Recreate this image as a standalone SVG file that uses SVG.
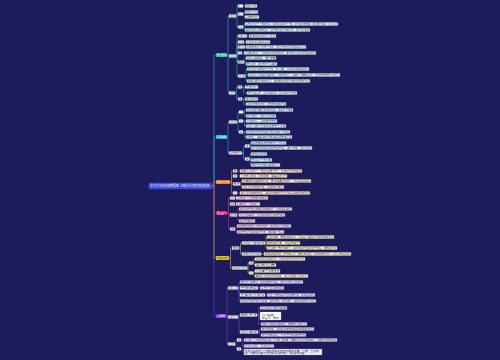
<svg xmlns="http://www.w3.org/2000/svg" width="500" height="360" viewBox="0 0 500 360">
<style>
text{font-family:"Noto Sans CJK SC","Noto Sans",sans-serif;font-size:2.2px;fill:#333;}
.root text{fill:#fff;font-size:3px;}
.l1 text{fill:#fff;font-size:2.4px;}
rect{stroke-width:0.3;}
.lt{fill:#eefaf8;stroke:#8fd8cc;}
.lc{fill:#eaf6fc;stroke:#8cc9e6;}
.lo{fill:#fdf0e2;stroke:#f0b27a;}
.lp{fill:#f8e6f2;stroke:#e39ac4;}
.ly{fill:#fcf8dc;stroke:#e5da7a;}
.lu{fill:#efe7fb;stroke:#b89ae8;}
.sb{fill:#ffffff;stroke:#b8c4e0;}
#connectors path{fill:none;stroke-width:0.6;stroke-linejoin:round;}
.ct{stroke:#33b3a0;}.cc{stroke:#26aad4;}.co{stroke:#e07b27;}.cp{stroke:#d02c7e;}.cy{stroke:#c8b82a;}.cu{stroke:#7a48d0;}
</style>
<rect x="0" y="0" width="500" height="360" fill="#1d1b5c"/>
<g id="connectors">
<path class="ct" d="M212 186H214V55H216"/>
<path class="cc" d="M212 186H214V137H216"/>
<path class="co" d="M212 186H214V182H216"/>
<path class="cu" d="M212 186H214V316H216"/>
<path class="cy" d="M212 186H214V258H216"/>
<path class="cp" d="M212 186H214V213H216"/>
<path class="ct" d="M227 55H228V16H229M227 55H228V56H229M227 55H228V93H229"/>
<path class="ct" d="M236 16H237V6H238M236 16H237V14H238M236 16H237V27H238"/>
<path class="ct" d="M243 6H245M243 14H244V12H245M243 14H244V17H245M243 27H244V24H245M243 27H244V30H245"/>
<path class="ct" d="M236 56H237V36H238M236 56H237V42H238M236 56H237V47H238M236 56H237V53H238M236 56H237V62H238M236 56H237V76H238"/>
<path class="ct" d="M247 36H249M244 42H246M245 47H246M242 53H244M244 62H245V58H246M244 62H245V64H246M245 76H246V69H247M245 76H246V75H248M245 76H246V81H247"/>
<path class="ct" d="M235 93H236.5V87H238M235 93H236.5V99H238"/>
<path class="ct" d="M242 87H243.5V87H245M242 87H243.5V93H247M242 99H243.5V99H245M242 99H243.5V104H246"/>
<path class="cc" d="M227 137H228V122H229M227 137H228V153H229"/>
<path class="cc" d="M237 122H238V112H239M237 122H238V121H239M237 122H238V132H239"/>
<path class="cc" d="M243 112H244.5V110H246M243 112H244.5V116H246M243 121H244.5V121H246M243 121H244.5V126H246M243 132H244.5V132H246M243 132H244.5V137H246"/>
<path class="cc" d="M242 153H243.5V146H245M242 153H243.5V159H245"/>
<path class="cc" d="M249.5 146H250.2V143H251M249.5 146H250.2V148H251M249.5 159H250.2V154H251M249.5 159H250.2V160H251M249.5 159H250.2V165H251"/>
<path class="co" d="M230 182H231.5V171H233M230 182H231.5V176H233M230 182H231.5V184H233M230 182H231.5V193H233"/>
<path class="co" d="M237 171H240M237 176H240M240 184H241V181H242M240 184H241V187H242M237 193H240"/>
<path class="cp" d="M227 213H228.5V198H230M227 213H228.5V204H230M227 213H228.5V215H230M227 213H228.5V229H230"/>
<path class="cp" d="M235 198H236M235 204H236M237 215H238V209H239M237 215H238V215H239M237 215H238V221H239M235 229H236V226H237M235 229H236V232H237"/>
<path class="cy" d="M229 258H230.5V248H232M229 258H230.5V268H232"/>
<path class="cy" d="M239 248H240.5V243H242M239 248H240.5V254H242"/>
<path class="cy" d="M265 243H266V237H267M265 243H266V243H267M265 243H266V248H267M261 254H264"/>
<path class="cy" d="M247 268H248V263H249M247 268H248V273H249"/>
<path class="cy" d="M253 263H254V259H255M253 263H254V265H255M253 273H254V271H255M253 273H254V276H255"/>
<path class="cu" d="M226 316H227V288H228M226 316H227V317H228M226 316H227V344H228"/>
<path class="cu" d="M238 288H239V282H240M238 288H239V288H240M238 288H239V295H240M238 288H239V301H240M258 288H260M265 295H267"/>
<path class="cu" d="M238 317H239V315H240M238 317H239V332H240"/>
<path class="cu" d="M257 315H258.5V308H260M257 315H258.5V316H260M257 315H258.5V324H261M258 332H259.5V329H261M258 332H259.5V335H261"/>
<path class="cu" d="M235 344H236V340H237M235 344H236V349H237"/>
<path class="cu" d="M241 340H242.5V340H244M241 340H242.5V346H244M241 349H242.5V352H244"/>
</g>
<g id="root" class="root"><rect x="149" y="183" width="63" height="6" rx="0.8" fill="#3946dc" stroke="#5a66ee"/><text x="150" y="187" textLength="61" lengthAdjust="spacingAndGlyphs">学习方法与技巧总结思维导图（全面提升学习效率的实用指南）</text></g>
<g id="b1" class="l1"><rect x="216" y="53" width="11" height="4" rx="0.6" fill="#22c3a6"/><text x="216.8" y="55.9" textLength="9.4" lengthAdjust="spacingAndGlyphs">学习目标</text></g>
<g id="b2" class="l1"><rect x="216" y="135" width="11" height="4" rx="0.6" fill="#1ab3dc"/><text x="216.8" y="137.9" textLength="9.4" lengthAdjust="spacingAndGlyphs">时间管理</text></g>
<g id="b3" class="l1"><rect x="216" y="180" width="14" height="4" rx="0.6" fill="#e8791e"/><text x="216.8" y="182.9" textLength="12.4" lengthAdjust="spacingAndGlyphs">课堂学习方法</text></g>
<g id="b4" class="l1"><rect x="216" y="211" width="11" height="4" rx="0.6" fill="#d9227a"/><text x="216.8" y="213.9" textLength="9.4" lengthAdjust="spacingAndGlyphs">课后复习</text></g>
<g id="b5" class="l1"><rect x="216" y="256" width="13" height="4" rx="0.6" fill="#e3d21c"/><text x="216.8" y="258.9" textLength="11.4" lengthAdjust="spacingAndGlyphs" style="fill:#333">考试应对技巧</text></g>
<g id="b6" class="l1"><rect x="216" y="314" width="10" height="4" rx="0.6" fill="#7d42d9"/><text x="216.8" y="316.9" textLength="8.4" lengthAdjust="spacingAndGlyphs">心态调整</text></g>
<g id="tA"><rect class="sb" x="229" y="14.5" width="7" height="3" rx="0.4"/><text x="229.5" y="16.8" textLength="6" lengthAdjust="spacingAndGlyphs">长期目标</text></g>
<g id="tB"><rect class="sb" x="229" y="54.5" width="7" height="3" rx="0.4"/><text x="229.5" y="56.8" textLength="6" lengthAdjust="spacingAndGlyphs">阶段目标</text></g>
<g id="tC"><rect class="sb" x="229" y="91.5" width="6" height="3" rx="0.4"/><text x="229.5" y="93.8" textLength="5" lengthAdjust="spacingAndGlyphs">每日目标</text></g>
<g id="ta1"><rect class="sb" x="238" y="4.5" width="5" height="3" rx="0.4"/><text x="238.6" y="6.8" textLength="3.8" lengthAdjust="spacingAndGlyphs">第一</text></g>
<g id="ta1l"><rect class="lt" x="245" y="4.5" width="12" height="3" rx="0.4"/><text x="245.6" y="6.8" textLength="10.8" lengthAdjust="spacingAndGlyphs">明确学习方向</text></g>
<g id="ta2"><rect class="sb" x="238" y="12.5" width="5" height="3" rx="0.4"/><text x="238.6" y="14.8" textLength="3.8" lengthAdjust="spacingAndGlyphs">第二</text></g>
<g id="ta2a"><rect class="lt" x="245" y="10.5" width="13" height="3" rx="0.4"/><text x="245.6" y="12.8" textLength="11.8" lengthAdjust="spacingAndGlyphs">制定学习计划</text></g>
<g id="ta2b"><rect class="lt" x="245" y="15.5" width="14" height="3" rx="0.4"/><text x="245.6" y="17.8" textLength="12.8" lengthAdjust="spacingAndGlyphs">合理安排进度</text></g>
<g id="ta3"><rect class="sb" x="238" y="25.5" width="5" height="3" rx="0.4"/><text x="238.6" y="27.8" textLength="3.8" lengthAdjust="spacingAndGlyphs">第三</text></g>
<g id="ta3a"><rect class="lt" x="245" y="22.5" width="93" height="3" rx="0.4"/><text x="245.6" y="24.8" textLength="91.8" lengthAdjust="spacingAndGlyphs">每天坚持学习一定的时间，养成良好的学习习惯，避免临时抱佛脚，做到循序渐进、持之以恒</text></g>
<g id="ta3b"><rect class="lt" x="245" y="28.5" width="65" height="3" rx="0.4"/><text x="245.6" y="30.8" textLength="63.8" lengthAdjust="spacingAndGlyphs">根据自身情况调整目标，既不能过高也不能过低，保持适度挑战</text></g>
<g id="tb1"><rect class="sb" x="238" y="34.5" width="9" height="3" rx="0.4"/><text x="238.6" y="36.8" textLength="7.8" lengthAdjust="spacingAndGlyphs">学期计划</text></g>
<g id="tb1l"><rect class="lt" x="249" y="34.5" width="27" height="3" rx="0.4"/><text x="249.6" y="36.8" textLength="25.8" lengthAdjust="spacingAndGlyphs">整体规划各科学习重点</text></g>
<g id="tb2"><rect class="sb" x="238" y="40.5" width="6" height="3" rx="0.4"/><text x="238.6" y="42.8" textLength="4.8" lengthAdjust="spacingAndGlyphs">月计划</text></g>
<g id="tb2l"><rect class="lt" x="246" y="40.5" width="24" height="3" rx="0.4"/><text x="246.6" y="42.8" textLength="22.8" lengthAdjust="spacingAndGlyphs">分解任务落实到每月</text></g>
<g id="tb3"><rect class="sb" x="238" y="45.5" width="7" height="3" rx="0.4"/><text x="238.6" y="47.8" textLength="5.8" lengthAdjust="spacingAndGlyphs">周计划</text></g>
<g id="tb3l"><rect class="lt" x="246" y="45.5" width="60" height="3" rx="0.4"/><text x="246.6" y="47.8" textLength="58.8" lengthAdjust="spacingAndGlyphs">每周安排复习与预习内容，留出机动时间处理突发情况</text></g>
<g id="tb4"><rect class="sb" x="238" y="51.5" width="4" height="3" rx="0.4"/><text x="238.5" y="53.8" textLength="3" lengthAdjust="spacingAndGlyphs">注</text></g>
<g id="tb4l"><rect class="lt" x="244" y="51.5" width="72" height="3" rx="0.4"/><text x="244.6" y="53.8" textLength="70.8" lengthAdjust="spacingAndGlyphs">计划要具体可行，写明完成时间和检验标准，便于执行后进行对照检查和总结</text></g>
<g id="tb5"><rect class="sb" x="238" y="60.5" width="6" height="3" rx="0.4"/><text x="238.6" y="62.8" textLength="4.8" lengthAdjust="spacingAndGlyphs">要求</text></g>
<g id="tb5a"><rect class="lt" x="246" y="56.5" width="30" height="3" rx="0.4"/><text x="246.6" y="58.8" textLength="28.8" lengthAdjust="spacingAndGlyphs">目标清晰明确，便于衡量</text></g>
<g id="tb5b"><rect class="lt" x="246" y="62.5" width="31" height="3" rx="0.4"/><text x="246.6" y="64.8" textLength="29.8" lengthAdjust="spacingAndGlyphs">难度适中，通过努力可以实现</text></g>
<g id="tb6"><rect class="sb" x="238" y="74.5" width="7" height="3" rx="0.4"/><text x="238.6" y="76.8" textLength="5.8" lengthAdjust="spacingAndGlyphs">方法</text></g>
<g id="tb6a"><rect class="lt" x="247" y="67.5" width="62" height="3" rx="0.4"/><text x="247.6" y="69.8" textLength="60.8" lengthAdjust="spacingAndGlyphs">把大目标分解成若干小目标，逐个击破，及时获得成就感和动力</text></g>
<g id="tb6b"><rect class="lt" x="248" y="73.5" width="92" height="3" rx="0.4"/><text x="248.6" y="75.8" textLength="90.8" lengthAdjust="spacingAndGlyphs">将目标写下来贴在显眼的位置，时刻提醒自己，每完成一项就做好标记，增强自我管理能力与执行力</text></g>
<g id="tb6c"><rect class="lt" x="247" y="79.5" width="63" height="3" rx="0.4"/><text x="247.6" y="81.8" textLength="61.8" lengthAdjust="spacingAndGlyphs">定期回顾目标完成情况，根据实际进展及时做出调整和改进</text></g>
<g id="tc1"><rect class="sb" x="238" y="85.5" width="4" height="3" rx="0.4"/><text x="238.5" y="87.8" textLength="3" lengthAdjust="spacingAndGlyphs">早</text></g>
<g id="tc1a"><rect class="lt" x="245" y="85.5" width="13" height="3" rx="0.4"/><text x="245.6" y="87.8" textLength="11.8" lengthAdjust="spacingAndGlyphs">晨读记忆</text></g>
<g id="tc1b"><rect class="lt" x="247" y="91.5" width="50" height="3" rx="0.4"/><text x="247.6" y="93.8" textLength="48.8" lengthAdjust="spacingAndGlyphs">早晨头脑清醒，适合背诵单词、古诗文和公式定理</text></g>
<g id="tc2"><rect class="sb" x="238" y="97.5" width="4" height="3" rx="0.4"/><text x="238.5" y="99.8" textLength="3" lengthAdjust="spacingAndGlyphs">晚</text></g>
<g id="tc2a"><rect class="lt" x="245" y="97.5" width="13" height="3" rx="0.4"/><text x="245.6" y="99.8" textLength="11.8" lengthAdjust="spacingAndGlyphs">晚间总结</text></g>
<g id="tc2b"><rect class="lt" x="246" y="102.5" width="40" height="3" rx="0.4"/><text x="246.6" y="104.8" textLength="38.8" lengthAdjust="spacingAndGlyphs">回顾当天所学内容，整理笔记和错题本</text></g>
<g id="cD"><rect class="sb" x="229" y="120.5" width="8" height="3" rx="0.4"/><text x="229.5" y="122.8" textLength="7" lengthAdjust="spacingAndGlyphs">时间分配</text></g>
<g id="cd1"><rect class="sb" x="239" y="110.5" width="4" height="3" rx="0.4"/><text x="239.5" y="112.8" textLength="3" lengthAdjust="spacingAndGlyphs">一</text></g>
<g id="cd1a"><rect class="lc" x="246" y="108.5" width="47" height="3" rx="0.4"/><text x="246.6" y="110.8" textLength="45.8" lengthAdjust="spacingAndGlyphs">优先处理重要且紧急的任务，提高学习效率</text></g>
<g id="cd1b"><rect class="lc" x="246" y="114.5" width="30" height="3" rx="0.4"/><text x="246.6" y="116.8" textLength="28.8" lengthAdjust="spacingAndGlyphs">避免拖延，今日事今日毕</text></g>
<g id="cd2"><rect class="sb" x="239" y="119.5" width="4" height="3" rx="0.4"/><text x="239.5" y="121.8" textLength="3" lengthAdjust="spacingAndGlyphs">二</text></g>
<g id="cd2a"><rect class="lc" x="246" y="119.5" width="31" height="3" rx="0.4"/><text x="246.6" y="121.8" textLength="29.8" lengthAdjust="spacingAndGlyphs">劳逸结合，合理安排休息</text></g>
<g id="cd2b"><rect class="lc" x="246" y="124.5" width="40" height="3" rx="0.4"/><text x="246.6" y="126.8" textLength="38.8" lengthAdjust="spacingAndGlyphs">每学习四十分钟左右休息十分钟</text></g>
<g id="cd3"><rect class="sb" x="239" y="130.5" width="4" height="3" rx="0.4"/><text x="239.5" y="132.8" textLength="3" lengthAdjust="spacingAndGlyphs">三</text></g>
<g id="cd3a"><rect class="lc" x="246" y="130.5" width="44" height="3" rx="0.4"/><text x="246.6" y="132.8" textLength="42.8" lengthAdjust="spacingAndGlyphs">利用零碎时间进行记忆和复习巩固</text></g>
<g id="cd3b"><rect class="lc" x="246" y="135.5" width="46" height="3" rx="0.4"/><text x="246.6" y="137.8" textLength="44.8" lengthAdjust="spacingAndGlyphs">如排队、乘车等时间背诵单词或知识点</text></g>
<g id="cE"><rect class="sb" x="229" y="151.5" width="13" height="3" rx="0.4"/><text x="229.5" y="153.8" textLength="12" lengthAdjust="spacingAndGlyphs">提高效率的方法</text></g>
<g id="ce1"><rect class="sb" x="245" y="144.5" width="4.5" height="3" rx="0.4"/><text x="245.5" y="146.8" textLength="3.5" lengthAdjust="spacingAndGlyphs">1</text></g>
<g id="ce1a"><rect class="lc" x="251" y="141.5" width="35" height="3" rx="0.4"/><text x="251.6" y="143.8" textLength="33.8" lengthAdjust="spacingAndGlyphs">营造安静整洁的学习环境</text></g>
<g id="ce1b"><rect class="lc" x="251" y="146.5" width="61" height="3" rx="0.4"/><text x="251.6" y="148.8" textLength="59.8" lengthAdjust="spacingAndGlyphs">学习时远离手机等电子产品，减少干扰，保持专注</text></g>
<g id="ce2"><rect class="sb" x="245" y="157.5" width="4.5" height="3" rx="0.4"/><text x="245.5" y="159.8" textLength="3.5" lengthAdjust="spacingAndGlyphs">2</text></g>
<g id="ce2a"><rect class="lc" x="251" y="152.5" width="16" height="3" rx="0.4"/><text x="251.6" y="154.8" textLength="14.8" lengthAdjust="spacingAndGlyphs">番茄工作法</text></g>
<g id="ce2b"><rect class="lc" x="251" y="158.5" width="21" height="3" rx="0.4"/><text x="251.6" y="160.8" textLength="19.8" lengthAdjust="spacingAndGlyphs">专注二十五分钟</text></g>
<g id="ce2c"><rect class="lc" x="251" y="163.5" width="29" height="3" rx="0.4"/><text x="251.6" y="165.8" textLength="27.8" lengthAdjust="spacingAndGlyphs">休息五分钟后继续学习</text></g>
<g id="oo1"><rect class="sb" x="233" y="169.5" width="4" height="3" rx="0.4"/><text x="233.5" y="171.8" textLength="3" lengthAdjust="spacingAndGlyphs">前</text></g>
<g id="oo1l"><rect class="lo" x="240" y="169.5" width="62" height="3" rx="0.4"/><text x="240.6" y="171.8" textLength="60.8" lengthAdjust="spacingAndGlyphs">课前认真预习，找出疑难问题，带着问题去听课</text></g>
<g id="oo2"><rect class="sb" x="233" y="174.5" width="4" height="3" rx="0.4"/><text x="233.5" y="176.8" textLength="3" lengthAdjust="spacingAndGlyphs">中</text></g>
<g id="oo2l"><rect class="lo" x="240" y="174.5" width="47" height="3" rx="0.4"/><text x="240.6" y="176.8" textLength="45.8" lengthAdjust="spacingAndGlyphs">上课专心听讲，积极思考，踊跃回答问题</text></g>
<g id="oo3"><rect class="sb" x="233" y="182.5" width="7" height="3" rx="0.4"/><text x="233.5" y="184.8" textLength="6" lengthAdjust="spacingAndGlyphs">笔记</text></g>
<g id="oo3a"><rect class="lo" x="242" y="179.5" width="69" height="3" rx="0.4"/><text x="242.6" y="181.8" textLength="67.8" lengthAdjust="spacingAndGlyphs">记录老师讲解的重点、难点和典型例题，不必面面俱到</text></g>
<g id="oo3b"><rect class="lo" x="242" y="185.5" width="42" height="3" rx="0.4"/><text x="242.6" y="187.8" textLength="40.8" lengthAdjust="spacingAndGlyphs">课后及时整理补充，形成知识体系</text></g>
<g id="oo4"><rect class="sb" x="233" y="191.5" width="4" height="3" rx="0.4"/><text x="233.5" y="193.8" textLength="3" lengthAdjust="spacingAndGlyphs">后</text></g>
<g id="oo4l"><rect class="lo" x="240" y="191.5" width="70" height="3" rx="0.4"/><text x="240.6" y="193.8" textLength="68.8" lengthAdjust="spacingAndGlyphs">课后及时完成作业，遇到不懂的问题主动请教老师和同学</text></g>
<g id="pp1"><rect class="sb" x="230" y="196.5" width="5" height="3" rx="0.4"/><text x="230.5" y="198.8" textLength="4" lengthAdjust="spacingAndGlyphs">及时</text></g>
<g id="pp1l"><rect class="lp" x="236" y="196.5" width="32" height="3" rx="0.4"/><text x="236.6" y="198.8" textLength="30.8" lengthAdjust="spacingAndGlyphs">当天复习当天所学知识</text></g>
<g id="pp2"><rect class="sb" x="230" y="202.5" width="5" height="3" rx="0.4"/><text x="230.5" y="204.8" textLength="4" lengthAdjust="spacingAndGlyphs">定期</text></g>
<g id="pp2l"><rect class="lp" x="236" y="202.5" width="24" height="3" rx="0.4"/><text x="236.6" y="204.8" textLength="22.8" lengthAdjust="spacingAndGlyphs">每周进行一次总复习</text></g>
<g id="pp3"><rect class="sb" x="230" y="213.5" width="7" height="3" rx="0.4"/><text x="230.5" y="215.8" textLength="6" lengthAdjust="spacingAndGlyphs">错题本</text></g>
<g id="pp3a"><rect class="lp" x="239" y="207.5" width="53" height="3" rx="0.4"/><text x="239.6" y="209.8" textLength="51.8" lengthAdjust="spacingAndGlyphs">收集平时作业和考试中的错题，分析错误原因</text></g>
<g id="pp3b"><rect class="lp" x="239" y="213.5" width="46" height="3" rx="0.4"/><text x="239.6" y="215.8" textLength="44.8" lengthAdjust="spacingAndGlyphs">写出正确解法，标注相关知识点和易错点</text></g>
<g id="pp3c"><rect class="lp" x="239" y="219.5" width="16" height="3" rx="0.4"/><text x="239.6" y="221.8" textLength="14.8" lengthAdjust="spacingAndGlyphs">经常翻看</text></g>
<g id="pp4"><rect class="sb" x="230" y="227.5" width="5" height="3" rx="0.4"/><text x="230.5" y="229.8" textLength="4" lengthAdjust="spacingAndGlyphs">归纳</text></g>
<g id="pp4a"><rect class="lp" x="237" y="224.5" width="54" height="3" rx="0.4"/><text x="237.6" y="226.8" textLength="52.8" lengthAdjust="spacingAndGlyphs">用思维导图梳理章节知识结构，建立知识之间的联系</text></g>
<g id="pp4b"><rect class="lp" x="237" y="230.5" width="47" height="3" rx="0.4"/><text x="237.6" y="232.8" textLength="45.8" lengthAdjust="spacingAndGlyphs">总结常见题型和解题方法，做到举一反三</text></g>
<g id="yY1"><rect class="sb" x="232" y="246.5" width="7" height="3" rx="0.4"/><text x="232.5" y="248.8" textLength="6" lengthAdjust="spacingAndGlyphs">考前</text></g>
<g id="yy1a"><rect class="sb" x="242" y="241.5" width="23" height="3" rx="0.4"/><text x="242.6" y="243.8" textLength="21.8" lengthAdjust="spacingAndGlyphs">系统复习查漏补缺</text></g>
<g id="yy1a1"><rect class="ly" x="267" y="235.5" width="67" height="3" rx="0.4"/><text x="267.6" y="237.8" textLength="65.8" lengthAdjust="spacingAndGlyphs">回归课本，梳理基础知识，重点复习薄弱环节和易错知识点</text></g>
<g id="yy1a2"><rect class="ly" x="267" y="241.5" width="33" height="3" rx="0.4"/><text x="267.6" y="243.8" textLength="31.8" lengthAdjust="spacingAndGlyphs">翻看错题本，巩固易错题</text></g>
<g id="yy1a3"><rect class="ly" x="267" y="246.5" width="70" height="3" rx="0.4"/><text x="267.6" y="248.8" textLength="68.8" lengthAdjust="spacingAndGlyphs">适当做一些模拟练习，熟悉考试题型和答题节奏，控制好时间</text></g>
<g id="yy1b"><rect class="sb" x="242" y="252.5" width="19" height="3" rx="0.4"/><text x="242.6" y="254.8" textLength="17.8" lengthAdjust="spacingAndGlyphs">调整作息状态</text></g>
<g id="yy1b1"><rect class="ly" x="264" y="252.5" width="87" height="3" rx="0.4"/><text x="264.6" y="254.8" textLength="85.8" lengthAdjust="spacingAndGlyphs">考前保证充足睡眠，饮食规律清淡，准备好考试用品，提前熟悉考场位置，以最佳状态迎接考试</text></g>
<g id="yY2"><rect class="sb" x="232" y="266.5" width="15" height="3" rx="0.4"/><text x="232.5" y="268.8" textLength="14" lengthAdjust="spacingAndGlyphs">考试中答题技巧</text></g>
<g id="yy2a"><rect class="sb" x="249" y="261.5" width="4" height="3" rx="0.4"/><text x="249.5" y="263.8" textLength="3" lengthAdjust="spacingAndGlyphs">先</text></g>
<g id="yy2a1"><rect class="ly" x="255" y="257.5" width="50" height="3" rx="0.4"/><text x="255.6" y="259.8" textLength="48.8" lengthAdjust="spacingAndGlyphs">拿到试卷先浏览全卷，合理分配各题的答题时间</text></g>
<g id="yy2a2"><rect class="ly" x="255" y="263.5" width="21" height="3" rx="0.4"/><text x="255.6" y="265.8" textLength="19.8" lengthAdjust="spacingAndGlyphs">先易后难</text></g>
<g id="yy2b"><rect class="sb" x="249" y="271.5" width="4" height="3" rx="0.4"/><text x="249.5" y="273.8" textLength="3" lengthAdjust="spacingAndGlyphs">后</text></g>
<g id="yy2b1"><rect class="ly" x="255" y="269.5" width="25" height="3" rx="0.4"/><text x="255.6" y="271.8" textLength="23.8" lengthAdjust="spacingAndGlyphs">认真审题仔细作答</text></g>
<g id="yy2b2"><rect class="ly" x="255" y="274.5" width="53" height="3" rx="0.4"/><text x="255.6" y="276.8" textLength="51.8" lengthAdjust="spacingAndGlyphs">做完后留出时间检查，避免因粗心而丢分</text></g>
<g id="uP1"><rect class="sb" x="228" y="286.5" width="10" height="3" rx="0.4"/><text x="228.5" y="288.8" textLength="9" lengthAdjust="spacingAndGlyphs">积极心态</text></g>
<g id="uu1a"><rect class="lu" x="240" y="280.5" width="63" height="3" rx="0.4"/><text x="240.6" y="282.8" textLength="61.8" lengthAdjust="spacingAndGlyphs">相信自己的能力，遇到困难不退缩，保持乐观向上的态度</text></g>
<g id="uu1b"><rect class="sb" x="240" y="286.5" width="18" height="3" rx="0.4"/><text x="240.6" y="288.8" textLength="16.8" lengthAdjust="spacingAndGlyphs">自我激励</text></g>
<g id="uu1b1"><rect class="lu" x="260" y="286.5" width="24" height="3" rx="0.4"/><text x="260.6" y="288.8" textLength="22.8" lengthAdjust="spacingAndGlyphs">给自己适当的奖励</text></g>
<g id="uu1c"><rect class="sb" x="240" y="293.5" width="25" height="3" rx="0.4"/><text x="240.6" y="295.8" textLength="23.8" lengthAdjust="spacingAndGlyphs">正确看待成绩</text></g>
<g id="uu1c1"><rect class="lu" x="267" y="293.5" width="48" height="3" rx="0.4"/><text x="267.6" y="295.8" textLength="46.8" lengthAdjust="spacingAndGlyphs">不因一次成绩好坏而骄傲或气馁，总结经验教训</text></g>
<g id="uu1d"><rect class="lu" x="240" y="299.5" width="76" height="3" rx="0.4"/><text x="240.6" y="301.8" textLength="74.8" lengthAdjust="spacingAndGlyphs">与同学互相交流学习经验，取长补短，共同进步，营造良好的学习氛围</text></g>
<g id="uP2"><rect class="sb" x="228" y="315.5" width="10" height="3" rx="0.4"/><text x="228.5" y="317.8" textLength="9" lengthAdjust="spacingAndGlyphs">缓解压力</text></g>
<g id="uu2a"><rect class="sb" x="240" y="313.5" width="17" height="3" rx="0.4"/><text x="240.6" y="315.8" textLength="15.8" lengthAdjust="spacingAndGlyphs">放松方法</text></g>
<g id="uu2a1"><rect class="lu" x="260" y="306.5" width="27" height="3" rx="0.4"/><text x="260.6" y="308.8" textLength="25.8" lengthAdjust="spacingAndGlyphs">适当进行体育锻炼</text></g>
<g id="uu2a2"><rect class="sb" x="260" y="312" width="21" height="8" rx="0.4"/><rect x="262" y="314" width="4" height="2.5" fill="#cfcfd8" stroke="none"/><rect x="267" y="314" width="7" height="2.5" fill="#a9a9b6" stroke="none"/><text x="262" y="318.8" textLength="17" lengthAdjust="spacingAndGlyphs">听音乐、散步</text></g>
<g id="uu2a3"><rect class="lu" x="261" y="322.5" width="46" height="3" rx="0.4"/><text x="261.6" y="324.8" textLength="44.8" lengthAdjust="spacingAndGlyphs">与家人朋友沟通倾诉，释放内心的压力</text></g>
<g id="uu2b"><rect class="sb" x="240" y="330.5" width="18" height="3" rx="0.4"/><text x="240.6" y="332.8" textLength="16.8" lengthAdjust="spacingAndGlyphs">保持健康</text></g>
<g id="uu2b1"><rect class="lu" x="261" y="327.5" width="53" height="3" rx="0.4"/><text x="261.6" y="329.8" textLength="51.8" lengthAdjust="spacingAndGlyphs">作息规律，保证每天有充足的睡眠时间</text></g>
<g id="uu2b2"><rect class="lu" x="261" y="333.5" width="45" height="3" rx="0.4"/><text x="261.6" y="335.8" textLength="43.8" lengthAdjust="spacingAndGlyphs">饮食均衡营养，少吃零食和油炸食品</text></g>
<g id="uP3"><rect class="sb" x="228" y="342.5" width="7" height="3" rx="0.4"/><text x="228.5" y="344.8" textLength="6" lengthAdjust="spacingAndGlyphs">坚持</text></g>
<g id="uu3a"><rect class="sb" x="237" y="338.5" width="4" height="3" rx="0.4"/><text x="237.5" y="340.8" textLength="3" lengthAdjust="spacingAndGlyphs">1</text></g>
<g id="uu3a1"><rect class="lu" x="244" y="338.5" width="93" height="3" rx="0.4"/><text x="244.6" y="340.8" textLength="91.8" lengthAdjust="spacingAndGlyphs">学习是一个长期积累的过程，不可能一蹴而就，需要每天坚持不懈地努力，才能取得理想的成绩</text></g>
<g id="uu3a2"><rect class="lu" x="244" y="344.5" width="30" height="3" rx="0.4"/><text x="244.6" y="346.8" textLength="28.8" lengthAdjust="spacingAndGlyphs">持之以恒，贵在坚持</text></g>
<g id="uu3b"><rect class="sb" x="237" y="347.5" width="4" height="3" rx="0.4"/><text x="237.5" y="349.8" textLength="3" lengthAdjust="spacingAndGlyphs">2</text></g>
<g id="uu3b1"><rect class="lu" x="244" y="349" width="78" height="6" rx="0.4"/><text x="244.6" y="351.5" textLength="76.8" lengthAdjust="spacingAndGlyphs">养成良好的学习习惯比短时间的突击更加重要，习惯一旦养成，</text><text x="244.6" y="354.3" textLength="60" lengthAdjust="spacingAndGlyphs">学习就会变得轻松而高效，终身受益</text></g>
</svg>
